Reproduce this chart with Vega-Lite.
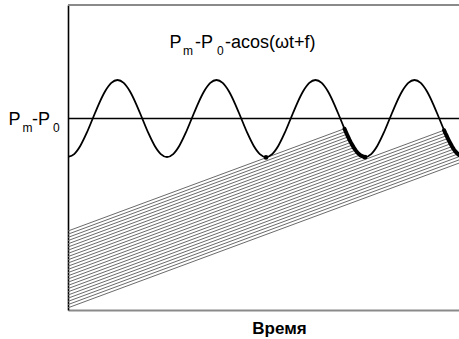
{
  "$schema": "https://vega.github.io/schema/vega-lite/v6.json",
  "width": 391,
  "height": 305,
  "autosize": {"type": "none"},
  "padding": {"left": 68, "top": 5, "right": 0, "bottom": 29},
  "background": "white",
  "config": {
    "view": {"stroke": null},
    "axis": {"labels": false, "ticks": false, "grid": false},
    "axisX": {"domainColor": "#8a8a8a", "domainWidth": 2, "titleFont": "Liberation Sans", "titleFontSize": 17, "titleFontWeight": "bold", "titleColor": "#000000", "titleX": 211, "titleY": 23.5, "titleBaseline": "alphabetic", "titleAlign": "center"},
    "axisY": {"domainColor": "#000000", "domainWidth": 1.6},
    "text": {"font": "Liberation Sans", "color": "#000000", "align": "left", "baseline": "alphabetic"}
  },
  "datasets": {
    "curve": [
      {"t": 0, "p": 153}, {"t": 6.19, "p": 155.93}, {"t": 12.38, "p": 164.28}, {"t": 18.56, "p": 176.77}, {"t": 24.75, "p": 191.5}, {"t": 30.94, "p": 206.23}, {"t": 37.13, "p": 218.72}, {"t": 43.31, "p": 227.07}, {"t": 49.5, "p": 230}, {"t": 55.69, "p": 227.07}, {"t": 61.88, "p": 218.72}, {"t": 68.06, "p": 206.23}, {"t": 74.25, "p": 191.5}, {"t": 80.44, "p": 176.77}, {"t": 86.63, "p": 164.28}, {"t": 92.81, "p": 155.93},
      {"t": 99, "p": 153}, {"t": 105.19, "p": 155.93}, {"t": 111.38, "p": 164.28}, {"t": 117.56, "p": 176.77}, {"t": 123.75, "p": 191.5}, {"t": 129.94, "p": 206.23}, {"t": 136.13, "p": 218.72}, {"t": 142.31, "p": 227.07}, {"t": 148.5, "p": 230}, {"t": 154.69, "p": 227.07}, {"t": 160.88, "p": 218.72}, {"t": 167.06, "p": 206.23}, {"t": 173.25, "p": 191.5}, {"t": 179.44, "p": 176.77}, {"t": 185.63, "p": 164.28}, {"t": 191.81, "p": 155.93},
      {"t": 198, "p": 153}, {"t": 204.19, "p": 155.93}, {"t": 210.38, "p": 164.28}, {"t": 216.56, "p": 176.77}, {"t": 222.75, "p": 191.5}, {"t": 228.94, "p": 206.23}, {"t": 235.13, "p": 218.72}, {"t": 241.31, "p": 227.07}, {"t": 247.5, "p": 230}, {"t": 253.69, "p": 227.07}, {"t": 259.88, "p": 218.72}, {"t": 266.06, "p": 206.23}, {"t": 272.25, "p": 191.5}, {"t": 278.44, "p": 176.77}, {"t": 284.63, "p": 164.28}, {"t": 290.81, "p": 155.93},
      {"t": 297, "p": 153}, {"t": 303.19, "p": 155.93}, {"t": 309.38, "p": 164.28}, {"t": 315.56, "p": 176.77}, {"t": 321.75, "p": 191.5}, {"t": 327.94, "p": 206.23}, {"t": 334.13, "p": 218.72}, {"t": 340.31, "p": 227.07}, {"t": 346.5, "p": 230}, {"t": 352.69, "p": 227.07}, {"t": 358.88, "p": 218.72}, {"t": 365.06, "p": 206.23}, {"t": 371.25, "p": 191.5}, {"t": 377.44, "p": 176.77}, {"t": 383.63, "p": 164.28}, {"t": 389.81, "p": 155.93}, {"t": 396, "p": 153}
    ],
    "bundle": [
      {"id": 0, "t": 0, "p": 79}, {"id": 0, "t": 276.5, "p": 181.3},
      {"id": 1, "t": 0, "p": 75.8}, {"id": 1, "t": 277.7, "p": 178.5},
      {"id": 2, "t": 0, "p": 72.6}, {"id": 2, "t": 278.9, "p": 175.8},
      {"id": 3, "t": 0, "p": 69.4}, {"id": 3, "t": 280.1, "p": 173.1},
      {"id": 4, "t": 0, "p": 66.2}, {"id": 4, "t": 281.4, "p": 170.3},
      {"id": 5, "t": 0, "p": 63.0}, {"id": 5, "t": 282.8, "p": 167.6},
      {"id": 6, "t": 0, "p": 59.8}, {"id": 6, "t": 284.3, "p": 165.0},
      {"id": 7, "t": 0, "p": 56.6}, {"id": 7, "t": 285.8, "p": 162.4},
      {"id": 8, "t": 0, "p": 53.4}, {"id": 8, "t": 287.5, "p": 159.8},
      {"id": 9, "t": 0, "p": 50.2}, {"id": 9, "t": 289.5, "p": 157.3},
      {"id": 10, "t": 0, "p": 47.0}, {"id": 10, "t": 292.0, "p": 155.0},
      {"id": 11, "t": 0, "p": 43.8}, {"id": 11, "t": 295.7, "p": 153.2},
      {"id": 12, "t": 0, "p": 40.6}, {"id": 12, "t": 376.1, "p": 179.8},
      {"id": 13, "t": 0, "p": 37.4}, {"id": 13, "t": 377.3, "p": 177.0},
      {"id": 14, "t": 0, "p": 34.2}, {"id": 14, "t": 378.6, "p": 174.3},
      {"id": 15, "t": 0, "p": 31.0}, {"id": 15, "t": 379.8, "p": 171.5},
      {"id": 16, "t": 0, "p": 27.8}, {"id": 16, "t": 381.2, "p": 168.8},
      {"id": 17, "t": 0, "p": 24.6}, {"id": 17, "t": 382.6, "p": 166.2},
      {"id": 18, "t": 0, "p": 21.4}, {"id": 18, "t": 384.1, "p": 163.5},
      {"id": 19, "t": 0, "p": 18.2}, {"id": 19, "t": 385.7, "p": 160.9},
      {"id": 20, "t": 0, "p": 15.0}, {"id": 20, "t": 387.6, "p": 158.4},
      {"id": 21, "t": 0, "p": 11.8}, {"id": 21, "t": 389.8, "p": 156.0},
      {"id": 22, "t": 0, "p": 8.6}, {"id": 22, "t": 391, "p": 153.3},
      {"id": 23, "t": 0, "p": 5.4}, {"id": 23, "t": 391, "p": 150.1},
      {"id": 24, "t": 0, "p": 2.2}, {"id": 24, "t": 391, "p": 146.9}
    ],
    "thick": [
      {"g": "a", "t": 276.5, "p": 181.3}, {"g": "a", "t": 277.7, "p": 178.5}, {"g": "a", "t": 278.9, "p": 175.8}, {"g": "a", "t": 280.1, "p": 173.1}, {"g": "a", "t": 281.4, "p": 170.3}, {"g": "a", "t": 282.8, "p": 167.6}, {"g": "a", "t": 284.3, "p": 165.0}, {"g": "a", "t": 285.8, "p": 162.4}, {"g": "a", "t": 287.5, "p": 159.8}, {"g": "a", "t": 289.5, "p": 157.3}, {"g": "a", "t": 292.0, "p": 155.0}, {"g": "a", "t": 295.7, "p": 153.2}, {"g": "a", "t": 297, "p": 153},
      {"g": "b", "t": 376.1, "p": 179.8}, {"g": "b", "t": 377.3, "p": 177.0}, {"g": "b", "t": 378.6, "p": 174.3}, {"g": "b", "t": 379.8, "p": 171.5}, {"g": "b", "t": 381.2, "p": 168.8}, {"g": "b", "t": 382.6, "p": 166.2}, {"g": "b", "t": 384.1, "p": 163.5}, {"g": "b", "t": 385.7, "p": 160.9}, {"g": "b", "t": 387.6, "p": 158.4}, {"g": "b", "t": 389.8, "p": 156.0}, {"g": "b", "t": 391, "p": 155.0}
    ],
    "dots": [
      {"t": 198, "p": 152.6},
      {"t": 297, "p": 152.8}
    ],
    "labels": [
      {"t": -59.5, "p": 185.5, "s": "P", "k": "main"},
      {"t": -45.5, "p": 178.5, "s": "m", "k": "sub"},
      {"t": -36, "p": 185.5, "s": "-P", "k": "main"},
      {"t": -15, "p": 178.5, "s": "0", "k": "sub"},
      {"t": 101.5, "p": 262, "s": "P", "k": "main"},
      {"t": 115, "p": 255, "s": "m", "k": "sub"},
      {"t": 127, "p": 262, "s": "-P", "k": "main"},
      {"t": 149, "p": 255, "s": "0", "k": "sub"},
      {"t": 157, "p": 262, "s": "-acos(ωt+f)", "k": "main"}
    ]
  },
  "layer": [
    {
      "data": {"name": "bundle"},
      "mark": {"type": "line", "color": "#6a6a6a", "strokeWidth": 1, "clip": true},
      "encoding": {
        "x": {"field": "t", "type": "quantitative", "scale": {"domain": [0, 391], "nice": false, "zero": false}, "axis": {"title": "Время"}},
        "y": {"field": "p", "type": "quantitative", "scale": {"domain": [0, 305], "nice": false, "zero": false}, "axis": {"title": null}},
        "detail": {"field": "id", "type": "nominal"}
      }
    },
    {
      "data": {"name": "curve"},
      "mark": {"type": "line", "color": "#000000", "strokeWidth": 1.8, "interpolate": "monotone", "clip": true},
      "encoding": {
        "x": {"field": "t", "type": "quantitative"},
        "y": {"field": "p", "type": "quantitative"}
      }
    },
    {
      "data": {"values": [{}]},
      "mark": {"type": "rule", "color": "#000000", "strokeWidth": 1.6},
      "encoding": {"y": {"datum": 191.5, "type": "quantitative"}}
    },
    {
      "data": {"values": [{}]},
      "mark": {"type": "rule", "color": "#8a8a8a", "strokeWidth": 2},
      "encoding": {"y": {"datum": 305, "type": "quantitative"}}
    },
    {
      "data": {"name": "thick"},
      "mark": {"type": "line", "color": "#000000", "strokeWidth": 4, "strokeCap": "round", "clip": true},
      "encoding": {
        "x": {"field": "t", "type": "quantitative"},
        "y": {"field": "p", "type": "quantitative"},
        "detail": {"field": "g", "type": "nominal"}
      }
    },
    {
      "data": {"name": "dots"},
      "mark": {"type": "point", "filled": true, "color": "#000000", "size": 22, "opacity": 1},
      "encoding": {
        "x": {"field": "t", "type": "quantitative"},
        "y": {"field": "p", "type": "quantitative"}
      }
    },
    {
      "data": {"name": "labels"},
      "transform": [{"filter": "datum.k == 'main'"}],
      "mark": {"type": "text", "fontSize": 18},
      "encoding": {
        "x": {"field": "t", "type": "quantitative"},
        "y": {"field": "p", "type": "quantitative"},
        "text": {"field": "s"}
      }
    },
    {
      "data": {"name": "labels"},
      "transform": [{"filter": "datum.k == 'sub'"}],
      "mark": {"type": "text", "fontSize": 12},
      "encoding": {
        "x": {"field": "t", "type": "quantitative"},
        "y": {"field": "p", "type": "quantitative"},
        "text": {"field": "s"}
      }
    }
  ]
}
